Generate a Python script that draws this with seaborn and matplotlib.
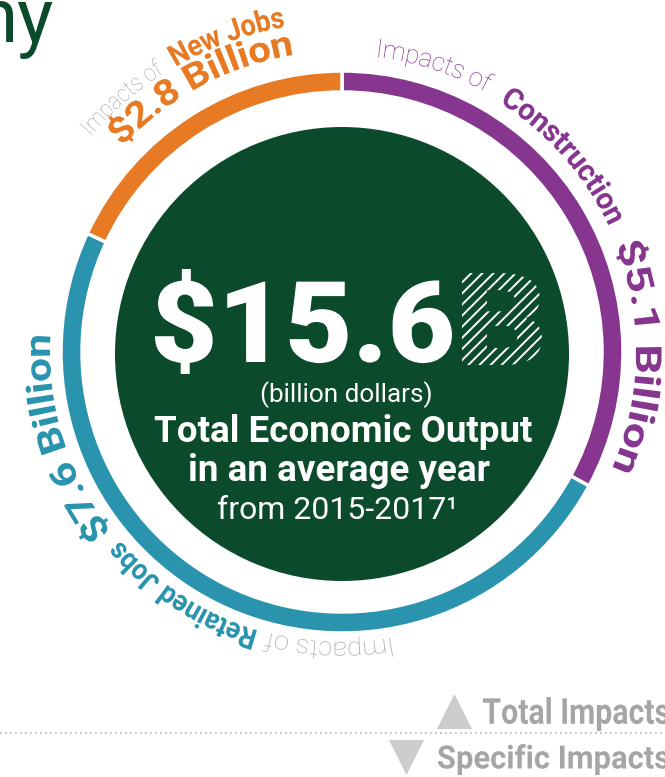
import numpy as np
import seaborn as sns
import matplotlib.pyplot as plt
from matplotlib.textpath import TextPath
from matplotlib.patches import PathPatch, Circle
from matplotlib.path import Path
from matplotlib.font_manager import FontProperties

# impact segments, clockwise from the top
segments = ['Construction', 'Retained Jobs', 'New Jobs']
values = [5.1, 7.6, 2.8]
value_labels = ['$5.1 Billion', '$7.6 Billion', '$2.8 Billion']
seg_colors = ['#87368F', '#2A93AE', '#E87A24']
total_label = '$15.6'

GREEN = '#0C4A2C'
GRAY = '#A7A9AC'

sns.set_theme(style='white')
plt.rcParams['font.family'] = ['Roboto', 'DejaVu Sans']
plt.rcParams['hatch.linewidth'] = 1.4

W, H = 665, 777
fig = plt.figure(figsize=(W / 100, H / 100), dpi=100)
ax = fig.add_axes([0, 0, 1, 1])

cx, cy = 342, H - 352   # ring centre in pixel-like data units


def fy(py):
    return H - py


# ring
ax.pie(values, colors=seg_colors, startangle=90, counterclock=False,
       radius=281, center=(cx, cy),
       wedgeprops=dict(width=21, edgecolor='white', linewidth=2.5))
ax.add_patch(Circle((cx, fy(354)), 227, color=GREEN, lw=0))


def curved(s, start, end, r, em, color, weight):
    # bend a text path round the ring, clockwise, tops pointing outwards
    tp = TextPath((0, 0), s, size=em, prop=FontProperties(family='Roboto', weight=weight))
    v = tp.vertices.copy()
    ext = tp.get_extents()
    span = np.radians(start - end) * r
    v[:, 0] = (v[:, 0] - ext.x0) * span / ext.width
    th = np.radians(start) - v[:, 0] / r
    rr = r + v[:, 1]
    new = np.column_stack([cx + rr * np.cos(th), cy + rr * np.sin(th)])
    ax.add_patch(PathPatch(Path(new, tp.codes), fc=color, lw=0))


def boxed(s, x0, x1, top, bottom, weight, **kw):
    # text path stretched into a pixel box
    tp = TextPath((0, 0), s, size=100, prop=FontProperties(family='Roboto', weight=weight))
    v = tp.vertices.copy()
    ext = tp.get_extents()
    v[:, 0] = x0 + (v[:, 0] - ext.x0) * (x1 - x0) / ext.width
    v[:, 1] = fy(bottom) + (v[:, 1] - ext.y0) * (bottom - top) / ext.height
    ax.add_patch(PathPatch(Path(v, tp.codes), **kw))


# Construction (purple)
curved('Impacts of', 83, 61, 297, 26, seg_colors[0], 'light')
curved(segments[0], 57.5, 25.5, 295, 30, seg_colors[0], 'bold')
curved(value_labels[0], 21, -23, 294, 36, seg_colors[0], 'bold')

# Retained Jobs (teal)
curved('Impacts of', -80.5, -105, 290, 26, GRAY, 'light')
curved(segments[1], -107, -139.5, 291, 29, seg_colors[1], 'bold')
curved(value_labels[1], -142.5, -183, 292, 36, seg_colors[1], 'bold')

# New Jobs (orange), two lines
curved('Impacts of', 139, 122.5, 331, 24, GRAY, 'light')
curved(segments[2], 120, 100, 330, 30, seg_colors[2], 'bold')
curved(value_labels[2], 136.6, 99.5, 301, 36, seg_colors[2], 'bold')

# centre
boxed(total_label, 155, 452, 269, 374, 'heavy', fc='white', lw=0)
boxed('B', 462, 542, 273, 365, 'heavy', fc='none', ec='white', lw=0, hatch='///')
ax.text(346, fy(402), '(billion dollars)', color='white', fontsize=18.8,
        fontweight='normal', ha='center', va='baseline')
ax.text(343, fy(442), 'Total Economic Output', color='white', fontsize=26.5,
        fontweight='bold', ha='center', va='baseline')
ax.text(339, fy(481), 'in an average year', color='white', fontsize=26.5,
        fontweight='bold', ha='center', va='baseline')
ax.text(337, fy(519), 'from 2015-2017\u00b9', color='white', fontsize=23,
        fontweight='normal', ha='center', va='baseline')

# title fragment at the top left
ax.text(54, fy(42), 'ny', color=GREEN, fontsize=55, fontweight='normal',
        ha='right', va='baseline')

# key
ax.plot([0, W], [fy(733), fy(733)], color='#B5B5B5', lw=1.2, ls=(0, (1, 2)))
ax.scatter([454], [fy(711)], marker='^', s=640, color='#CDCDCD', lw=0)
ax.scatter([406], [fy(757)], marker='v', s=640, color='#CDCDCD', lw=0)
boxed('Total Impacts', 483, 669, 697, 731, 'bold', fc='#A5A5A5', lw=0)
boxed('Specific Impacts', 438, 669, 744, 775, 'bold', fc='#A5A5A5', lw=0)

ax.set_xlim(0, W)
ax.set_ylim(0, H)
ax.set_aspect('equal')
ax.axis('off')
fig.savefig('out.png', dpi=100)
